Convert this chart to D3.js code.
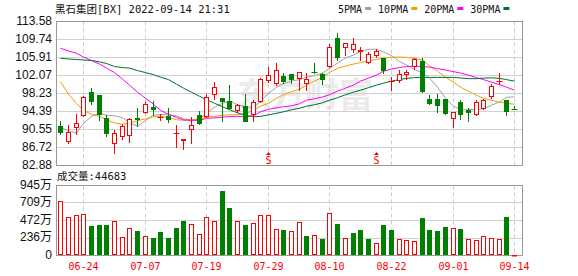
<!DOCTYPE html>
<html>
<head>
<meta charset="utf-8">
<script src="https://cdn.jsdelivr.net/npm/d3@7"></script>
<style>
  body { margin: 0; background: #fff; }
  svg { display: block; }
</style>
</head>
<body>
<div id="chart"><svg></svg></div>
<script>
const dates = ['06-21','06-22','06-23','06-24','06-27','06-28','06-29','06-30','07-01','07-05',
  '07-06','07-07','07-08','07-11','07-12','07-13','07-14','07-15','07-18','07-19',
  '07-20','07-21','07-22','07-25','07-26','07-27','07-28','07-29','08-01','08-02',
  '08-03','08-04','08-05','08-08','08-09','08-10','08-11','08-12','08-15','08-16',
  '08-17','08-18','08-19','08-22','08-23','08-24','08-25','08-26','08-29','08-30',
  '08-31','09-01','09-02','09-06','09-07','09-08','09-09','09-12','09-13','09-14']

const opens = [91.22, 88.07, 91.08, 93.65, 98.58, 97.87, 93.08, 87.72, 89.22, 89.43,
  93.00, 94.36, 95.43, 93.25, 93.36, 89.80, 88.40, 90.65, 93.72, 93.36,
  98.08, 97.22, 96.72, 94.65, 95.51, 93.79, 96.58, 101.08, 100.37, 101.94,
  102.37, 101.44, 100.51, 102.87, 102.30, 104.08, 110.01, 108.08, 107.65, 107.30,
  105.01, 106.44, 105.73, 100.80, 101.08, 102.29, 104.08, 105.15, 97.15, 97.01,
  97.01, 93.01, 96.51, 94.65, 93.79, 95.22, 97.65, 100.80, 96.79, 94.95]
const highs = [92.29, 91.43, 93.93, 97.60, 99.37, 98.00, 93.58, 90.50, 91.79, 93.08,
  95.22, 96.51, 96.58, 93.93, 95.22, 91.43, 88.57, 93.22, 94.50, 98.08,
  100.72, 97.36, 99.94, 96.08, 98.08, 96.94, 101.44, 103.94, 104.65, 102.65,
  102.37, 102.72, 102.51, 104.65, 102.51, 108.80, 111.09, 108.94, 110.01, 108.22,
  107.15, 107.65, 105.73, 101.65, 103.22, 103.22, 105.73, 105.73, 97.87, 98.22,
  97.15, 94.20, 96.94, 95.22, 96.79, 97.15, 100.22, 102.51, 96.79, 95.51]
const lows = [89.65, 87.64, 89.65, 93.43, 96.08, 92.50, 89.15, 85.57, 88.57, 87.86,
  91.22, 94.08, 93.72, 92.50, 92.15, 86.79, 86.43, 87.64, 91.79, 93.22,
  97.15, 92.29, 94.86, 94.29, 92.36, 92.36, 96.44, 100.65, 100.01, 100.37,
  100.37, 99.08, 99.08, 102.51, 100.22, 103.94, 105.37, 106.44, 107.15, 105.37,
  104.80, 106.08, 102.65, 98.94, 100.73, 101.22, 103.37, 98.58, 95.93, 94.29,
  93.79, 91.08, 92.86, 92.36, 93.58, 95.01, 97.36, 100.22, 93.58, 94.93]
const closes = [89.95, 89.98, 92.01, 97.51, 96.65, 93.79, 89.79, 89.86, 91.36, 92.80,
  92.70, 95.93, 94.93, 93.29, 92.79, 89.86, 88.43, 91.50, 92.00, 97.51,
  99.65, 96.65, 95.22, 95.86, 92.36, 96.51, 101.22, 102.08, 103.22, 100.87,
  101.22, 102.72, 101.22, 102.80, 101.22, 108.08, 106.08, 108.94, 108.80, 107.50,
  106.58, 107.37, 103.22, 100.87, 102.37, 102.72, 105.51, 98.79, 96.22, 95.72,
  94.08, 94.20, 93.93, 94.29, 96.44, 96.94, 99.79, 100.87, 94.51, 94.93]
const volumes = [7400000, 5160000, 5480000, 5610000, 3970000, 4110000, 4110000, 4610000, 2560000, 3650000,
  3290000, 2700000, 2330000, 3150000, 2330000, 3700000, 4660000, 4250000, 2880000, 5160000,
  4610000, 8770000, 6440000, 4610000, 4110000, 4340000, 5480000, 5480000, 3520000, 3420000,
  3290000, 4480000, 2600000, 2740000, 2190000, 5750000, 4250000, 2420000, 3050000, 3420000,
  2190000, 1640000, 4110000, 3420000, 2190000, 2050000, 1920000, 5070000, 3420000, 3290000,
  3830000, 3700000, 3560000, 2190000, 2050000, 2600000, 2330000, 2190000, 5200000, 44683]

const ma5 = [90.94, 90.36, 89.78, 91.86, 93.36, 94.01, 93.58, 93.47, 93.04, 92.08,
  91.22, 92.51, 93.58, 93.73, 93.68, 93.47, 92.87, 92.51, 92.87, 94.01,
  95.29, 96.15, 96.64, 95.83, 95.40, 95.23, 96.58, 98.29, 99.58, 100.33,
  100.87, 101.19, 101.66, 102.05, 102.58, 103.55, 104.73, 105.80, 106.44, 107.19,
  107.66, 107.66, 107.08, 106.33, 105.05, 104.30, 103.33, 102.58, 101.51, 99.58,
  97.22, 95.51, 94.80, 94.80, 94.80, 94.97, 95.72, 96.43, 97.44, 97.50]
const ma10 = [100.72, 98.08, 96.09, 94.65, 93.79, 93.36, 92.61, 91.97, 91.65, 91.97,
  92.40, 92.83, 93.26, 93.36, 93.04, 92.66, 92.51, 92.61, 92.87, 93.15,
  93.36, 93.58, 93.68, 93.73, 93.90, 94.65, 95.51, 96.15, 97.22, 97.97,
  98.57, 99.15, 100.01, 100.87, 101.72, 102.69, 103.59, 104.08, 104.51, 104.83,
  105.15, 105.48, 105.80, 105.95, 106.01, 105.95, 105.73, 105.37, 104.08, 103.01,
  101.72, 100.65, 99.58, 98.72, 97.87, 97.22, 96.79, 96.36, 96.15, 95.94]
const ma20 = [107.88, 107.30, 106.81, 106.01, 105.26, 104.51, 103.65, 102.69, 101.30, 100.01,
  98.51, 97.22, 95.94, 94.65, 93.79, 93.15, 92.61, 92.51, 92.51, 92.93,
  93.04, 93.19, 93.30, 93.36, 93.26, 93.47, 94.33, 94.86, 95.19, 95.40,
  95.61, 96.04, 96.79, 97.12, 97.48, 97.97, 98.72, 99.37, 100.01, 100.87,
  101.51, 102.15, 102.99, 103.44, 103.76, 103.98, 104.08, 103.98, 103.87, 103.55,
  103.23, 102.90, 102.58, 102.15, 101.62, 101.19, 100.65, 100.12, 99.58, 98.94]
const ma30 = [105.73, 105.58, 105.48, 105.37, 105.26, 104.98, 104.62, 103.98, 103.76, 103.65,
  103.12, 102.69, 102.26, 101.72, 101.19, 100.22, 99.37, 98.51, 97.65, 96.90,
  96.15, 95.40, 94.76, 94.11, 93.58, 93.26, 93.36, 93.68, 94.01, 94.33,
  94.76, 95.08, 95.51, 95.83, 96.26, 96.79, 97.33, 97.97, 98.51, 98.94,
  99.47, 100.01, 100.44, 100.87, 101.19, 101.45, 101.62, 101.66, 101.66, 101.66,
  101.66, 101.66, 101.55, 101.40, 101.40, 101.51, 101.57, 101.45, 101.19, 100.87]

const maNames = ['5PMA', '10PMA', '20PMA', '30PMA']
const priceTicks = [113.58, 109.74, 105.91, 102.07, 98.23, 94.39, 90.55, 86.72, 82.88]
const volTicks = [9450000, 7090000, 4720000, 2360000, 0]
const volTickLabels = ['945万', '709万', '472万', '236万', '0']
const dateTicks = ['06-24', '07-07', '07-19', '07-29', '08-10', '08-22', '09-01', '09-14']
const markerDates = ['07-29', '08-18']

const titleText = '黑石集团[BX] 2022-09-14 21:31'
const watermarkText = '东方财富'

const WIDTH = 578, HEIGHT = 276
const MAIN = { left: 56.5, right: 522.5, top: 21.5, bottom: 165.5 }
const VOL = { top: 185.5, bottom: 255.5 }
const RED = '#ff0000', GREEN = '#008000'
const maColors = ['#a0a0a0', '#f0a000', '#ff00ff', '#006f37']
const MONO = '"DejaVu Sans Mono", "Noto Sans CJK SC", monospace'

const $svg = d3.select('#chart svg').attr('width', WIDTH).attr('height', HEIGHT)

const x = d3.scaleBand().domain(dates).range([56.4, 517.9])
const y = d3.scaleLinear().domain([82.88, 113.58]).range([MAIN.bottom, MAIN.top])
const yVol = d3.scaleLinear().domain([0, 9450000]).range([VOL.bottom, VOL.top])

const cx = d => Math.round(x(d) + x.bandwidth() / 2) + 0.5
const snap = v => Math.round(v - 0.5) + 0.5

const candles = dates.map((d, i) => ({
  date: d, open: opens[i], high: highs[i], low: lows[i], close: closes[i],
  volume: volumes[i], up: closes[i] >= opens[i],
  volUp: i === 0 ? true : closes[i] >= closes[i - 1]
}))

function drawFrame(top, bottom, ticks, scale) {
  const g = $svg.append('g')
  g.selectAll('.hgrid').data(ticks).enter().append('line')
    .attr('x1', MAIN.left).attr('x2', MAIN.right)
    .attr('y1', d => snap(scale(d))).attr('y2', d => snap(scale(d)))
    .attr('stroke', '#d0d0d0')
  g.selectAll('.vgrid').data(dateTicks).enter().append('line')
    .attr('x1', d => cx(d)).attr('x2', d => cx(d))
    .attr('y1', top).attr('y2', bottom)
    .attr('stroke', '#cccccc').attr('stroke-dasharray', '4,3')
  g.append('rect')
    .attr('x', MAIN.left).attr('y', top)
    .attr('width', MAIN.right - MAIN.left).attr('height', bottom - top)
    .attr('fill', 'none').attr('stroke', '#999')
}

function drawMain() {
  // watermark
  $svg.append('text')
    .attr('x', 237).attr('y', 107)
    .attr('font-family', '"Noto Sans CJK SC"').attr('font-weight', 'bold')
    .attr('font-size', 34).attr('fill', '#ebebeb')
    .text(watermarkText)

  drawFrame(MAIN.top, MAIN.bottom, priceTicks, y)

  $svg.append('g').selectAll('text').data(priceTicks).enter().append('text')
    .attr('x', 52).attr('y', d => y(d))
    .attr('text-anchor', 'end').attr('dominant-baseline', 'middle')
    .attr('font-family', '"Liberation Sans", Arial').attr('font-size', 12)
    .attr('fill', '#111')
    .text(d => d.toFixed(2))

  const line = d3.line().x((v, i) => cx(dates[i])).y(v => y(v))
  const $lines = $svg.append('g')
  ;[ma5, ma10, ma20, ma30].forEach((arr, k) => {
    $lines.append('path').datum(arr)
      .attr('d', line)
      .attr('fill', 'none')
      .attr('stroke', maColors[k])
      .attr('stroke-width', 1)
  })

  const $c = $svg.append('g').selectAll('g').data(candles).enter().append('g')
  $c.append('line')
    .attr('x1', d => cx(d.date)).attr('x2', d => cx(d.date))
    .attr('y1', d => Math.round(y(d.high))).attr('y2', d => Math.round(y(d.low)) + 1)
    .attr('stroke', d => d.up ? RED : GREEN)
  $c.each(function (d) {
    const g = d3.select(this)
    const c = cx(d.date)
    const yT = Math.round(y(Math.max(d.open, d.close)))
    const yB = Math.round(y(Math.min(d.open, d.close)))
    if (yB - yT < 1) {
      g.append('line')
        .attr('x1', c - 3).attr('x2', c + 3)
        .attr('y1', yT + 0.5).attr('y2', yT + 0.5)
        .attr('stroke', d.up ? RED : GREEN)
    } else if (d.up) {
      g.append('rect')
        .attr('x', c - 2).attr('y', yT + 0.5)
        .attr('width', 4).attr('height', yB - yT)
        .attr('fill', '#fff').attr('stroke', RED)
    } else {
      g.append('rect')
        .attr('x', c - 2.5).attr('y', yT)
        .attr('width', 5).attr('height', yB - yT + 1)
        .attr('fill', GREEN)
    }
  })

  // ex-dividend markers
  const $m = $svg.append('g').selectAll('g').data(markerDates).enter().append('g')
  $m.append('path')
    .attr('d', d => `M${cx(d) - 2.5},155 L${cx(d) + 2.5},155 L${cx(d)},152 Z`)
    .attr('fill', RED)
  $m.append('text')
    .attr('x', d => cx(d)).attr('y', 163.5)
    .attr('text-anchor', 'middle')
    .attr('font-family', MONO).attr('font-size', 10)
    .attr('fill', RED).text('S')
}

function drawVolume() {
  drawFrame(VOL.top, VOL.bottom, volTicks.slice(1, 4), yVol)

  $svg.append('g').selectAll('text').data(volTicks).enter().append('text')
    .attr('x', 52).attr('y', d => yVol(d))
    .attr('text-anchor', 'end').attr('dominant-baseline', 'middle')
    .attr('font-family', '"Liberation Sans", "Noto Sans CJK SC"').attr('font-size', 12)
    .attr('fill', '#111')
    .text((d, i) => volTickLabels[i])

  const $bars = $svg.append('g').selectAll('rect').data(candles).enter().append('rect')
  $bars.each(function (d) {
    const c = cx(d.date)
    const top = Math.round(yVol(d.volume))
    const h = Math.max(Math.round(VOL.bottom - 0.5) - top, 1)
    const bar = d3.select(this)
    if (d.volUp) {
      bar.attr('x', c - 2).attr('y', top + 0.5).attr('width', 4).attr('height', Math.max(h - 1, 0.5))
        .attr('fill', '#fff').attr('stroke', RED)
    } else {
      bar.attr('x', c - 2.5).attr('y', top).attr('width', 5).attr('height', h)
        .attr('fill', GREEN)
    }
  })

  $svg.append('text')
    .attr('x', 57).attr('y', 180)
    .attr('font-family', MONO).attr('font-size', 10.5).attr('fill', '#111')
    .text('成交量:' + volumes[volumes.length - 1])

  $svg.append('g').selectAll('text').data(dateTicks).enter().append('text')
    .attr('x', d => cx(d)).attr('y', 270)
    .attr('text-anchor', 'middle')
    .attr('font-family', MONO).attr('font-size', 10)
    .attr('fill', RED)
    .text(d => d)
}

function drawHeader() {
  $svg.append('text')
    .attr('x', 55).attr('y', 13)
    .attr('font-family', MONO).attr('font-size', 10.5).attr('fill', '#111')
    .text(titleText)

  let lx = 338
  maNames.forEach((name, k) => {
    const t = $svg.append('text')
      .attr('x', lx).attr('y', 13)
      .attr('font-family', MONO).attr('font-size', 10).attr('fill', '#111')
      .text(name)
    lx += t.node().getComputedTextLength() + 3
    $svg.append('rect')
      .attr('x', lx).attr('y', 7).attr('width', 6).attr('height', 3)
      .attr('fill', maColors[k])
    lx += 6 + 7
  })
}

function init() {
  drawMain()
  drawVolume()
  drawHeader()
}

init()
</script>
</body>
</html>
